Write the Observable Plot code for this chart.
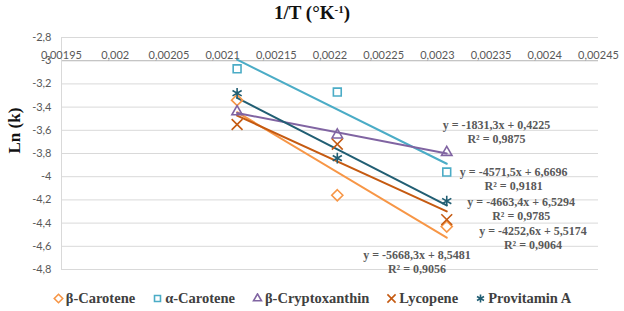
<!DOCTYPE html>
<html>
<head>
<meta charset="utf-8">
<script src="https://cdn.jsdelivr.net/npm/d3@7"></script>
<script src="https://cdn.jsdelivr.net/npm/@observablehq/plot@0.6"></script>
<style>
  html, body { margin: 0; padding: 0; background: #fff; }
  #wrap { position: relative; width: 624px; height: 311px; overflow: hidden; }
  #title { position: absolute; top: 0; left: 0; width: 624px; height: 26px; line-height: 26px;
           text-align: center; font-family: "Liberation Serif", serif; font-weight: bold; font-size: 19px; color: #111; }
  #title sup { font-size: 11px; vertical-align: 6px; line-height: 0; }
  #chart { position: absolute; top: 26px; left: 0; }
  #legend { position: absolute; top: 287px; left: 0; width: 624px; height: 22px; display: flex;
            justify-content: center; align-items: center; gap: 17px;
            font-family: "Liberation Serif", serif; font-weight: bold; font-size: 14.5px; color: #404040; }
  #legend .item { display: flex; align-items: center; gap: 2px; }
</style>
</head>
<body>
<div id="wrap">
  <div id="title">1/T (°K<sup>-1</sup>)</div>
  <div id="chart"></div>
  <div id="legend"></div>
</div>
<script>
// ---- data ----
const invT = [0.0021135, 0.0022068, 0.0023087];
const seriesNames = ["β-Carotene", "α-Carotene", "β-Cryptoxanthin", "Lycopene", "Provitamin A"];
const betaCarotene = [-3.34, -4.16, -4.43];
const alphaCarotene = [-3.07, -3.27, -3.96];
const betaCryptoxanthin = [-3.44, -3.64, -3.79];
const lycopene = [-3.55, -3.72, -4.37];
const provitaminA = [-3.28, -3.84, -4.21];
const seriesColors = ["#F79646", "#4BACC6", "#8064A2", "#C55A11", "#215E73"];
const seriesSymbols = ["diamond2", "square2", "triangle2", "times", "asterisk"];
const xTicks = [0.00195, 0.002, 0.00205, 0.0021, 0.00215, 0.0022, 0.00225, 0.0023, 0.00235, 0.0024, 0.00245];
const yTicks = [-2.8, -3, -3.2, -3.4, -3.6, -3.8, -4, -4.2, -4.4, -4.6, -4.8];
const eqLabels = [
  "y = -1831,3x + 0,4225\nR² = 0,9875",
  "y = -4571,5x + 6,6696\nR² = 0,9181",
  "y = -4663,4x + 6,5294\nR² = 0,9785",
  "y = -4252,6x + 5,5174\nR² = 0,9064",
  "y = -5668,3x + 8,5481\nR² = 0,9056"
];
const eqX = [0.002355, 0.002371, 0.002378, 0.002389, 0.002281];
const eqY = [-3.612, -4.017, -4.276, -4.526, -4.733];

// ---- build tables ----
const seriesValues = [betaCarotene, alphaCarotene, betaCryptoxanthin, lycopene, provitaminA];
const rows = [];
seriesNames.forEach((name, i) => {
  invT.forEach((x, j) => rows.push({series: name, x, y: seriesValues[i][j]}));
});
const eqRows = eqLabels.map((t, i) => ({text: t, x: eqX[i], y: eqY[i]}));
const fmt = d => String(d).replace(".", ",");
const font = "Lato, 'Open Sans', sans-serif";

const plot = Plot.plot({
  width: 624,
  height: 258,
  marginTop: 11,
  marginBottom: 15,
  marginLeft: 61,
  marginRight: 26,
  style: {color: "#595959", background: "#fff", fontFamily: font},
  x: {domain: [0.00195, 0.00245], axis: null},
  y: {domain: [-4.8, -2.8], axis: null},
  color: {domain: seriesNames, range: seriesColors},
  symbol: {domain: seriesNames, range: seriesSymbols},
  marks: [
    Plot.gridY(yTicks, {stroke: "#d9d9d9", strokeOpacity: 1}),
    Plot.ruleY([-3], {stroke: "#bfbfbf", strokeWidth: 1}),
    Plot.ruleX([0.00195], {y1: -2.8, y2: -4.8, stroke: "#d9d9d9"}),
    Plot.axisY(yTicks, {tickSize: 0, tickPadding: 10, tickFormat: fmt, fontSize: 11, fontFamily: font, label: null}),
    Plot.axisX(xTicks, {anchor: "top", tickSize: 0, tickPadding: -21, tickFormat: fmt, fontSize: 11, fontFamily: font, label: null}),
    Plot.text(["Ln (k)"], {frameAnchor: "left", rotate: -90, dx: -47, fontSize: 17, fontWeight: "bold",
      fontFamily: "'Liberation Serif', serif", fill: "#111"}),
    Plot.linearRegressionY(rows, {x: "x", y: "y", stroke: "series", ci: 0, strokeWidth: 2}),
    Plot.dot(rows, {x: "x", y: "y", stroke: "series", symbol: "series", r: 5, strokeWidth: 1.6, fill: "none"}),
    Plot.text(eqRows, {x: "x", y: "y", text: "text", fontSize: 12, fontWeight: "bold", lineHeight: 1.17,
      fontFamily: "'Liberation Serif', serif", fill: "#595959"})
  ]
});
document.getElementById("chart").appendChild(plot);

// ---- legend ----
const legend = document.getElementById("legend");
const symMap = {diamond2: d3.symbolDiamond2, square2: d3.symbolSquare2, triangle2: d3.symbolTriangle2, times: d3.symbolTimes, asterisk: d3.symbolAsterisk};
seriesNames.forEach((name, i) => {
  const item = document.createElement("div");
  item.className = "item";
  const path = d3.symbol(symMap[seriesSymbols[i]], Math.PI * 3.8 * 3.8)();
  item.innerHTML = `<svg width="11" height="11" viewBox="-5.5 -5.5 11 11"><path d="${path}" fill="none" stroke="${seriesColors[i]}" stroke-width="1.6"/></svg><span>${name}</span>`;
  legend.appendChild(item);
});
</script>
</body>
</html>
